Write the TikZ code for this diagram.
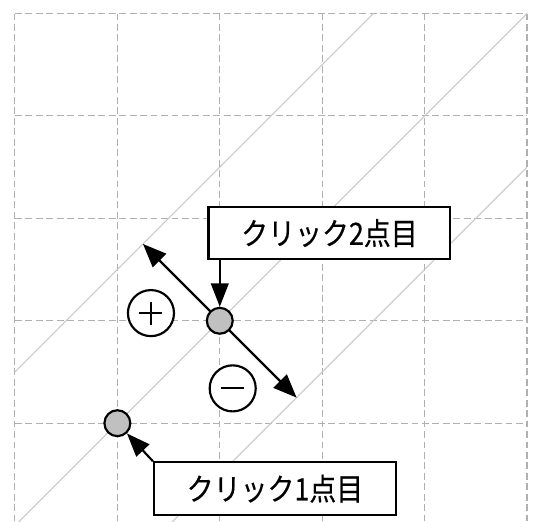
\documentclass[tikz,border=0pt]{standalone}
\usepackage{fontspec}
\newfontfamily\jp[FakeStretch=0.88, FakeBold=0.35]{Noto Sans CJK JP}
\usetikzlibrary{arrows.meta}
\definecolor{gridgray}{HTML}{B0B0B0}
\definecolor{diaggray}{HTML}{C8C8C8}
\definecolor{ptfill}{HTML}{C0C0C0}
\tikzset{
  gridline/.style={gridgray, line width=0.3pt, dash pattern=on 1.9pt off 1.0pt},
  diagline/.style={diaggray, line width=0.3pt},
  pt/.style={circle, draw=black, line width=0.6pt, fill=ptfill, inner sep=0pt, minimum size=7.2pt},
  sign/.style={circle, draw=black, line width=0.6pt, fill=white, inner sep=0pt, minimum size=12.8pt},
  label/.style={draw=black, line width=0.6pt, fill=white, inner sep=0pt, minimum width=67.2pt, minimum height=14.6pt, font=\jp\fontsize{8.5pt}{10pt}\selectfont},
  conn/.style={black, line width=0.6pt, -{Triangle[length=6.5pt, width=4.9pt]}},
  dconn/.style={black, line width=0.6pt, {Triangle[length=6.5pt, width=5.2pt]}-{Triangle[length=6.5pt, width=5.2pt]}},
}
\begin{document}
\begin{tikzpicture}[x=1cm, y=-1cm]
\useasboundingbox (-0.146,-0.132) rectangle (5.068,4.956);
\fill[white] (-0.146,-0.132) rectangle (5.068,4.956);
% grid
\foreach \u in {0,1,2,3,4,5} \draw[gridline] (\u,0) -- (\u,4.956);
\foreach \v in {0,1,2,3,4} \draw[gridline] (0,\v) -- (5,\v);
% diagonal level lines
\begin{scope}
\clip (0,0) rectangle (5,4.956);
\draw[diagline] (3.5,0) -- (0,3.5);
\draw[diagline] (5,0) -- (0,5);
\draw[diagline] (5,1.5) -- (1.5,5);
\end{scope}
% points
\coordinate (up) at (1.25,2.25);
\coordinate (down) at (2.75,3.75);
\draw[dconn] (up) -- (down);
\node[pt] (c2) at (2,3) {};
\node[pt] (c1) at (1,4) {};
% plus / minus
\node[sign, path picture={\draw[line width=0.6pt] ([xshift=-3.2pt]path picture bounding box.center) -- ([xshift=3.2pt]path picture bounding box.center) ([yshift=-3.2pt]path picture bounding box.center) -- ([yshift=3.2pt]path picture bounding box.center);}] (plus) at (1.328,2.925) {};
\node[sign, path picture={\draw[line width=0.6pt] ([xshift=-3.2pt]path picture bounding box.center) -- ([xshift=3.2pt]path picture bounding box.center);}] (minus) at (2.126,3.66) {};
% labels
\node[label] (b2) at (3.071,2.144) {クリック2点目};
\node[label] (b1) at (2.539,4.639) {クリック1点目};
\draw[conn] (c2 |- b2.south) -- (c2);
\draw[conn] (b1.north west) -- (c1);
\end{tikzpicture}
\end{document}
